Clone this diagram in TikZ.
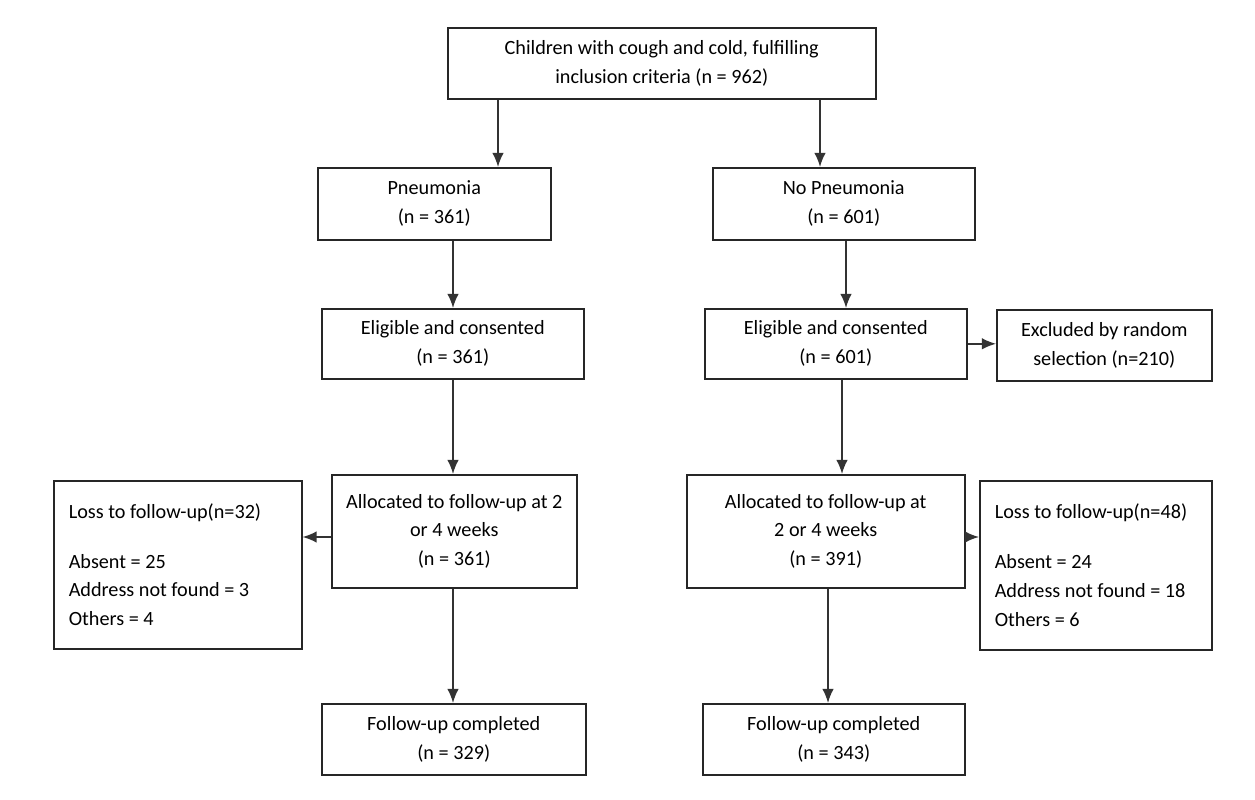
\documentclass[tikz,border=0pt]{standalone}
\usepackage{fontspec}
\setmainfont{Carlito}
\usetikzlibrary{arrows.meta}
\begin{document}
\begin{tikzpicture}[x=0.02cm,y=-0.02cm,
  box/.style={draw=black!85,line width=0.9pt,align=center,inner sep=0pt,anchor=north west,
    font=\fontsize{11.5}{16.4}\selectfont},
  lbox/.style={box,align=flush left,inner xsep=0.3cm},
  arr/.style={-{Latex[length=8pt,width=6.5pt]},line width=0.9pt,draw=black!80}]
\useasboundingbox[fill=white] (0,0) rectangle (1255,800);
\node[box,minimum width=8.56cm,minimum height=1.42cm] (top) at (447,27) {Children with cough and cold, fulfilling\\inclusion criteria (n = 962)};
\node[box,minimum width=4.66cm,minimum height=1.44cm] (pn) at (317,167) {Pneumonia\\(n = 361)};
\node[box,minimum width=5.24cm,minimum height=1.44cm] (npn) at (712,167) {No Pneumonia\\(n = 601)};
\node[box,minimum width=5.24cm,minimum height=1.40cm] (el) at (321,308) {Eligible and consented\\(n = 361)};
\node[box,minimum width=5.24cm,minimum height=1.40cm] (er) at (704,308) {Eligible and consented\\(n = 601)};
\node[box,minimum width=4.30cm,minimum height=1.42cm] (ex) at (996,309) {Excluded by random\\selection (n=210)};
\node[box,minimum width=4.90cm,minimum height=2.26cm] (al) at (331,474) {Allocated to follow-up at 2\\or 4 weeks\\(n = 361)};
\node[box,minimum width=5.56cm,minimum height=2.26cm] (ar) at (686,474) {Allocated to follow-up at\\2 or 4 weeks\\(n = 391)};
\node[lbox,text width=4.36cm,minimum height=3.36cm] (ll) at (53,480) {Loss to follow-up(n=32)\\[0.42cm]Absent = 25\\Address not found = 3\\Others = 4};
\node[lbox,text width=4.04cm,minimum height=3.38cm] (lr) at (979,480) {Loss to follow-up(n=48)\\[0.42cm]Absent = 24\\Address not found = 18\\Others = 6};
\node[box,minimum width=5.28cm,minimum height=1.42cm] (fl) at (321,703) {Follow-up completed\\(n = 329)};
\node[box,minimum width=5.24cm,minimum height=1.42cm] (fr) at (702,703) {Follow-up completed\\(n = 343)};
\draw[arr] (top.south -| 498,0) -- (pn.north -| 498,0);
\draw[arr] (top.south -| 820,0) -- (npn.north -| 820,0);
\draw[arr] (pn.south -| 453,0) -- (el.north -| 453,0);
\draw[arr] (npn.south -| 846,0) -- (er.north -| 846,0);
\draw[arr] (el.south -| 453,0) -- (al.north -| 453,0);
\draw[arr] (er.south -| 842,0) -- (ar.north -| 842,0);
\draw[arr] (er.east) -- (ex.west |- er.east);
\draw[arr] (al.west |- 0,537) -- (ll.east |- 0,537);
\draw[arr] (ar.east |- 0,537) -- (lr.west |- 0,537);
\draw[arr] (al.south -| 453,0) -- (fl.north -| 453,0);
\draw[arr] (ar.south -| 828,0) -- (fr.north -| 828,0);
\end{tikzpicture}
\end{document}
